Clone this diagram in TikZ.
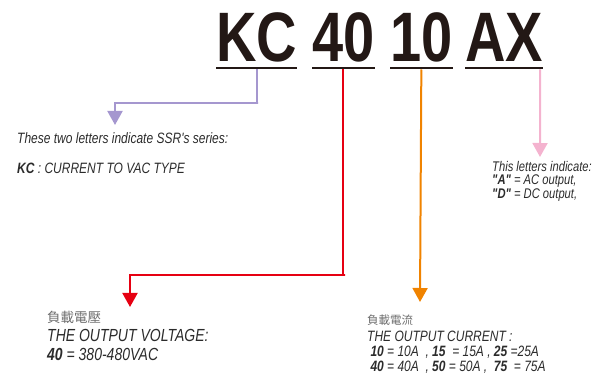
\documentclass[tikz,border=0pt]{standalone}
\usepackage{fontspec}
\setmainfont{Liberation Sans}
\newfontfamily\narrowsans{Liberation Sans}[FakeStretch=0.8]
\newfontfamily\cjkfont{Noto Sans CJK TC}
\usetikzlibrary{positioning, arrows.meta}

\definecolor{codeblack}{HTML}{231815}
\definecolor{notegray}{HTML}{2B2B2B}
\definecolor{cjkgray}{HTML}{6E6E6E}
\definecolor{serpurple}{HTML}{A597CF}
\definecolor{voltred}{HTML}{E60012}
\definecolor{amporange}{HTML}{F08300}
\definecolor{acpink}{HTML}{F4B3CF}

\tikzstyle{code} = [inner sep=0pt, anchor=base west, text=codeblack, font=\narrowsans\bfseries\fontsize{70}{70}\selectfont]
\tikzstyle{uline} = [line width=2.6pt, codeblack]
\tikzstyle{note} = [inner sep=0pt, anchor=north west, align=left, text=notegray]
\tikzstyle{cjk} = [inner sep=0pt, anchor=north west, text=cjkgray]
\tikzstyle{arrow} = [line width=2pt, -{Triangle[width=15pt,length=14pt]}]

\begin{document}
\begin{tikzpicture}[x=1pt, y=-1pt]
\useasboundingbox (0,0) rectangle (598,374);

%Nodes
\node (kc) [code] at (216,62) {KC};
\node (volt) [code] at (312,62) {40};
\node (amp) [code] at (390,62) {10};
\node (ax) [code] at (465,62) {AX};

\node (series) [note, font=\narrowsans\itshape\fontsize{15}{17}\selectfont] at (17,132)
  {These two letters indicate SSR's series:\\[13pt]\textbf{KC} : CURRENT TO VAC TYPE};
\node (acdc) [note, font=\narrowsans\itshape\fontsize{14}{13.5}\selectfont] at (492,161)
  {This letters indicate:\\\textbf{"A"} = AC output,\\\textbf{"D"} = DC output,};

\node (voltcjk) [cjk, font=\cjkfont\fontsize{13.5}{14}\selectfont] at (47,311) {負載電壓};
\node (voltnote) [note, font=\narrowsans\itshape\fontsize{17.5}{19}\selectfont] at (47,329)
  {THE OUTPUT VOLTAGE:\\\textbf{40} = 380-480VAC};
\node (ampcjk) [cjk, font=\cjkfont\fontsize{11.5}{12}\selectfont] at (367,315) {負載電流};
\node (ampnote) [note, font=\narrowsans\itshape\fontsize{15}{15}\selectfont] at (367,331)
  {THE OUTPUT CURRENT :\\
   \ \textbf{10} = 10A \ , \textbf{15} \ = 15A , \textbf{25} =25A\\
   \ \textbf{40} = 40A \ , \textbf{50} = 50A , \ \textbf{75} \ = 75A};

%Arrow tips
\coordinate (sertip) at (115,125);
\coordinate (volttip) at (130,307);
\coordinate (amptip) at (420,302);
\coordinate (acdctip) at (540,157);

%Underlines
\foreach \c in {kc, volt, amp, ax}
  \draw [uline] ([yshift=-6pt]\c.base west) -- ([yshift=-6pt]\c.base east);

%Arrows
\draw [arrow, serpurple] ([yshift=-7.5pt]kc.base) |- (258,103) -| (sertip);
\draw [arrow, voltred] ([yshift=-7.5pt]volt.base) |- (345,275) -| (volttip);
\draw [arrow, amporange] ([yshift=-7.5pt]amp.base) -- (amptip);
\draw [arrow, acpink] ([yshift=-7.5pt]ax.base east) ++(-3pt,0) -- (acdctip);

\end{tikzpicture}
\end{document}
